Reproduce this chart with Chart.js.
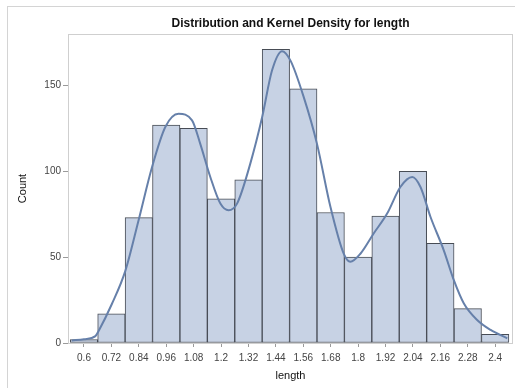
<!DOCTYPE html>
<html>
<head>
<meta charset="utf-8">
<script src="https://cdn.jsdelivr.net/npm/chart.js@4/dist/chart.umd.min.js"></script>
<style>
  html, body { margin: 0; padding: 0; background: #fff; }
  #wrap { width: 515px; height: 388px; }
</style>
</head>
<body>
<div id="wrap"><canvas id="histChart" width="515" height="388"></canvas></div>
<script>
// bin midpoints (length) and counts
const binMids = [0.6, 0.72, 0.84, 0.96, 1.08, 1.2, 1.32, 1.44, 1.56, 1.68, 1.8, 1.92, 2.04, 2.16, 2.28, 2.4];
const binCounts = [2, 17, 73, 127, 125, 84, 95, 171, 148, 76, 50, 74, 100, 58, 20, 5];
const tickLabels = ['0.6', '0.72', '0.84', '0.96', '1.08', '1.2', '1.32', '1.44', '1.56', '1.68', '1.8', '1.92', '2.04', '2.16', '2.28', '2.4'];

// kernel density curve (scaled to counts)
const kdeX = [0.547, 0.6, 0.65, 0.664, 0.723, 0.781, 0.839, 0.898, 0.956, 1.014, 1.073, 1.109, 1.153, 1.197, 1.233,
              1.27, 1.328, 1.38, 1.423, 1.467, 1.504, 1.562, 1.62, 1.679, 1.737, 1.766, 1.81, 1.868, 1.927,
              1.985, 2.037, 2.073, 2.117, 2.175, 2.219, 2.263, 2.321, 2.38, 2.453];
const kdeY = [1.5, 2.2, 4, 7, 23, 42, 71.5, 102.5, 125.8, 133.5, 129.7, 116, 96.7, 81.2, 77.3,
              81.2, 104.5, 131.6, 158.7, 170, 164.5, 143.2, 116, 79.2, 52, 47.3, 52, 63.8, 75.4,
              90.9, 96.7, 90.9, 73.4, 54, 36.6, 23, 13.4, 7.6, 2.7];

const TITLE = 'Distribution and Kernel Density for length';
const FONT = '"Liberation Sans", Arial, sans-serif';

// light gray outer border, the plot frame and the title centred over the plot
const framePlugin = {
  id: 'frames',
  beforeDraw(chart) {
    const c = chart.ctx;
    c.save();
    c.fillStyle = '#fff';
    c.fillRect(0, 0, chart.width, chart.height);
    c.strokeStyle = '#d4d4d4';
    c.lineWidth = 1;
    c.strokeRect(7.5, 6.5, 520, 400);
    c.restore();
  },
  beforeDatasetsDraw(chart) {
    const a = chart.chartArea;
    const c = chart.ctx;
    c.save();
    c.strokeStyle = '#cfcfcf';
    c.lineWidth = 1;
    c.strokeRect(Math.round(a.left) + 0.5, Math.round(a.top) + 0.5,
                 Math.round(a.right - a.left) - 1, Math.round(a.bottom - a.top));
    c.restore();
  },
  afterDraw(chart) {
    const a = chart.chartArea;
    const c = chart.ctx;
    c.save();
    c.fillStyle = '#111';
    c.font = 'bold 12px ' + FONT;
    c.textAlign = 'center';
    c.textBaseline = 'middle';
    c.fillText(TITLE, (a.left + a.right) / 2, 24);
    c.restore();
  }
};

new Chart(document.getElementById('histChart'), {
  type: 'bar',
  data: {
    datasets: [
      {
        type: 'line',
        label: 'Kernel',
        data: kdeX.map((x, i) => ({ x: x, y: kdeY[i] })),
        borderColor: '#6680aa',
        borderWidth: 2,
        pointRadius: 0,
        fill: false,
        cubicInterpolationMode: 'monotone',
        order: 0
      },
      {
        type: 'bar',
        label: 'Count',
        data: binMids.map((x, i) => ({ x: x, y: binCounts[i] })),
        backgroundColor: '#c7d2e4',
        borderColor: '#474c55',
        borderWidth: 1,
        borderSkipped: false,
        barPercentage: 1,
        categoryPercentage: 1,
        order: 1
      }
    ]
  },
  options: {
    responsive: false,
    animation: false,
    layout: { padding: { top: 34, right: 2, bottom: 0, left: 0 } },
    plugins: {
      legend: { display: false },
      tooltip: { enabled: false },
      title: { display: false }
    },
    scales: {
      x: {
        type: 'linear',
        min: 0.53,
        max: 2.478,
        offset: false,
        afterBuildTicks: (axis) => { axis.ticks = binMids.map(v => ({ value: v })); },
        afterFit: (scale) => { scale.height = 45; },
        ticks: {
          autoSkip: false,
          maxRotation: 0,
          padding: 5,
          color: '#444',
          font: { family: FONT, size: 10 },
          callback: (v, i) => tickLabels[i]
        },
        grid: { offset: false, drawOnChartArea: false, tickLength: 4, color: '#9a9a9a' },
        border: { display: false },
        title: {
          display: true,
          text: 'length',
          color: '#111',
          font: { family: FONT, size: 11 },
          padding: { top: 3, bottom: 5 }
        }
      },
      y: {
        min: 0,
        max: 180,
        afterFit: (scale) => { scale.width = 68; },
        ticks: {
          stepSize: 50,
          includeBounds: false,
          padding: 2,
          color: '#444',
          font: { family: FONT, size: 10 }
        },
        grid: { drawOnChartArea: false, tickLength: 5, color: '#9a9a9a' },
        border: { display: false },
        title: {
          display: true,
          text: 'Count',
          color: '#111',
          font: { family: FONT, size: 11 },
          padding: { top: 16, bottom: 0 }
        }
      }
    }
  },
  plugins: [framePlugin]
});
</script>
</body>
</html>
